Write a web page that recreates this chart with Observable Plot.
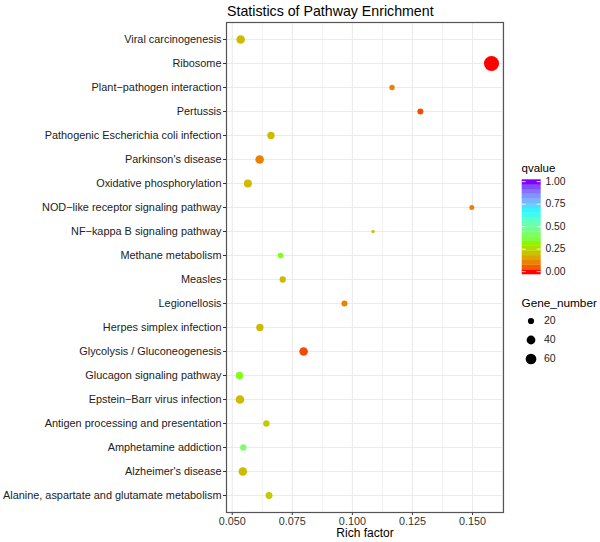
<!DOCTYPE html>
<html><head><meta charset="utf-8">
<script src="https://cdn.jsdelivr.net/npm/d3@7"></script>
<script src="https://cdn.jsdelivr.net/npm/@observablehq/plot@0.6"></script>
<style>
body{margin:0;background:#fff;font-family:"Liberation Sans",Arial,sans-serif;}
#wrap{position:relative;width:600px;height:542px;overflow:hidden;}
#title{position:absolute;left:227px;top:2px;font-size:14.2px;color:#000;white-space:nowrap;line-height:18px;}
#chart{position:absolute;left:0;top:20px;}
#legend{position:absolute;left:0;top:0;}
</style></head><body>
<div id="wrap"><div id="title">Statistics of Pathway Enrichment</div><div id="chart"></div><svg id="legend" width="600" height="542"></svg></div>
<script>
const pathways = [
  "Viral carcinogenesis","Ribosome","Plant\u2212pathogen interaction","Pertussis",
  "Pathogenic Escherichia coli infection","Parkinson's disease","Oxidative phosphorylation",
  "NOD\u2212like receptor signaling pathway","NF\u2212kappa B signaling pathway","Methane metabolism",
  "Measles","Legionellosis","Herpes simplex infection","Glycolysis / Gluconeogenesis",
  "Glucagon signaling pathway","Epstein\u2212Barr virus infection","Antigen processing and presentation",
  "Amphetamine addiction","Alzheimer's disease","Alanine, aspartate and glutamate metabolism"
];
const richFactor = [0.0535,0.1579,0.1165,0.1283,0.0661,0.0614,0.0565,0.1497,0.1086,0.0701,
  0.0710,0.0967,0.0615,0.0797,0.0530,0.0532,0.0642,0.0546,0.0544,0.0653];
const geneNumber = [38,118,15,19,28,38,33,13,6,16,21,19,28,38,28,38,21,21,38,25];
const qvalue = [0.20,0.0,0.10,0.035,0.20,0.10,0.20,0.10,0.23,0.34,0.20,0.10,0.20,0.035,0.34,0.20,0.23,0.42,0.20,0.23];
const xTicks = [0.05,0.075,0.1,0.125,0.15];
const xMinor = [0.0625,0.0875,0.1125,0.1375,0.1625];
const qTicks = [0,0.25,0.5,0.75,1];
const qStops = [0,1/3,2/3,1];
const qColors = ["#FF0000","#80FF00","#00FFFF","#8000FF"];
const sizeTicks = [20,40,60];

const data = pathways.map((p,i)=>({pathway:p, rich:richFactor[i], gene:geneNumber[i], q:qvalue[i]}));
const font = "Liberation Sans, Arial, sans-serif";

const plot = Plot.plot({
  width:600, height:520,
  marginLeft:226, marginRight:97, marginTop:2, marginBottom:28,
  style:{fontFamily:font, fontSize:"11px", color:"#222", background:"white", overflow:"visible"},
  x:{domain:[0.0476,0.1629], label:null},
  y:{domain:pathways, type:"point", padding:0.56, label:null},
  color:{type:"linear", domain:qStops, range:qColors, interpolate:"lab"},
  r:{domain:[0,120], range:[0,7.6]},
  marks:[
    Plot.gridX(xMinor,{stroke:"#ebebeb", strokeOpacity:1, strokeWidth:0.7}),
    Plot.gridX(xTicks,{stroke:"#ebebeb", strokeOpacity:1, strokeWidth:1.1}),
    Plot.gridY(pathways,{stroke:"#ebebeb", strokeOpacity:1, strokeWidth:1.1}),
    Plot.axisX(xTicks,{tickFormat:d3.format(".3f"), tickSize:3, tickPadding:1.5, fontSize:10.8, stroke:"#333", fill:"#333", label:null}),
    Plot.axisY({tickSize:3, tickPadding:2, fontSize:10.9, stroke:"#333", fill:"#222", label:null}),
    Plot.text(["Rich factor"],{frameAnchor:"bottom", dy:24.5, fontSize:12, fill:"#000"}),
    Plot.dot(data,{x:"rich", y:"pathway", r:"gene", fill:"q"}),
    Plot.frame({stroke:"#555", strokeWidth:1.2})
  ]
});
document.getElementById("chart").appendChild(plot);

// Legend
const cScale = d3.scaleLinear().domain(qStops).range(qColors).interpolate(d3.interpolateLab);
const rScale = d3.scaleSqrt().domain([0,120]).range([0,7.6]);
const lg = d3.select("#legend").style("font-family", font);
lg.append("text").attr("x",521.5).attr("y",169).attr("dominant-baseline","middle").attr("font-size",11.5).text("qvalue");
const barTop = 179.3, barBot = 274, barX = 521.7, barW = 19, nbin = 20;
const binH = (barBot-barTop)/nbin;
d3.range(nbin).forEach(i=>{
  lg.append("rect").attr("x",barX).attr("y",barBot-(i+1)*binH).attr("width",barW).attr("height",binH+0.3)
    .attr("fill",cScale(i/(nbin-1)));
});
const qy = v => barBot - binH/2 - v*(barBot-barTop-binH);
qTicks.forEach(v=>{
  const y = qy(v);
  lg.append("line").attr("x1",barX).attr("x2",barX+4).attr("y1",y).attr("y2",y).attr("stroke","white").attr("stroke-width",0.8);
  lg.append("line").attr("x1",barX+barW-4).attr("x2",barX+barW).attr("y1",y).attr("y2",y).attr("stroke","white").attr("stroke-width",0.8);
  lg.append("text").attr("x",545.5).attr("y",y+0.5).attr("dominant-baseline","middle").attr("font-size",10.3).attr("fill","#222").text(d3.format(".2f")(v));
});
lg.append("text").attr("x",521.5).attr("y",303.5).attr("dominant-baseline","middle").attr("font-size",11.8).text("Gene_number");
const sy = [321,340,359];
sizeTicks.forEach((v,i)=>{
  lg.append("circle").attr("cx",531).attr("cy",sy[i]).attr("r",rScale(v)).attr("fill","black");
  lg.append("text").attr("x",544).attr("y",sy[i]).attr("dominant-baseline","middle").attr("font-size",10.5).attr("fill","#222").text(v);
});
</script>
</body></html>
